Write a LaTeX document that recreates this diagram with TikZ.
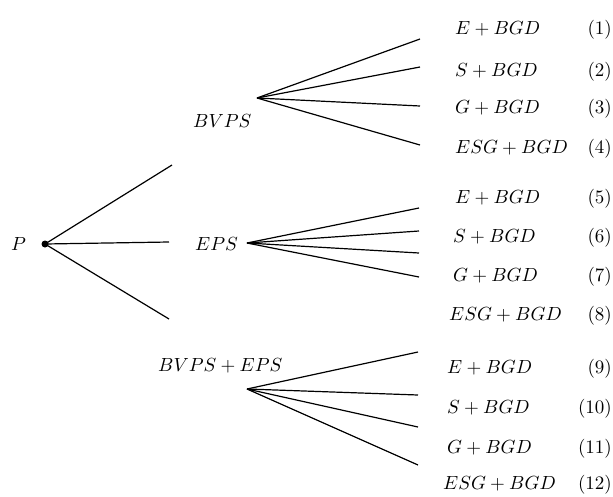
\documentclass[tikz,border=0pt]{standalone}
\usepackage{graphicx}
\newcommand{\bigtxt}[1]{\scalebox{1.9}{#1}}
\begin{document}
\begin{tikzpicture}[x=1pt,y=-1pt,
  branch/.style={line width=1.2pt},
  lbl/.style={anchor=base west, inner sep=0pt},
  num/.style={anchor=base east, inner sep=0pt},
  root/.style={circle, fill=black, inner sep=0pt, minimum size=7pt}]
\useasboundingbox (0,0) rectangle (613,496);

% root
\node[lbl] (plbl) at (11,250) {\bigtxt{$P$}};
\node[root] (p) at (45,244) {};
\coordinate (pa) at (172,165);
\coordinate (pb) at (169,242);
\coordinate (pc) at (169,319);
\draw[branch] (p.center) -- (pa);
\draw[branch] (p.center) -- (pb);
\draw[branch] (p.center) -- (pc);

% first level labels
\node[lbl] (bvps) at (193,127) {\bigtxt{$BVPS$}};
\node[lbl] (eps) at (195,250) {\bigtxt{$EPS$}};
\node[lbl] (both) at (158,371) {\bigtxt{$BVPS+EPS$}};

% BVPS branch
\coordinate (b0) at (257,98);
\coordinate (b1) at (420,39);
\coordinate (b2) at (420,67);
\coordinate (b3) at (420,106);
\coordinate (b4) at (420,145);
\foreach \e in {b1,b2,b3,b4} \draw[branch] (b0) -- (\e);

% EPS branch
\coordinate (e0) at (247,243);
\coordinate (e1) at (419,208);
\coordinate (e2) at (419,231);
\coordinate (e3) at (419,253);
\coordinate (e4) at (419,277);
\foreach \e in {e1,e2,e3,e4} \draw[branch] (e0) -- (\e);

% BVPS + EPS branch
\coordinate (c0) at (247,389);
\coordinate (c1) at (418,352);
\coordinate (c2) at (418,395);
\coordinate (c3) at (418,427);
\coordinate (c4) at (418,465);
\foreach \e in {c1,c2,c3,c4} \draw[branch] (c0) -- (\e);

% leaves
\node[lbl] (l1) at (455,34) {\bigtxt{$E+BGD$}};
\node[lbl] (l2) at (455,76) {\bigtxt{$S+BGD$}};
\node[lbl] (l3) at (455,113) {\bigtxt{$G+BGD$}};
\node[lbl] (l4) at (455,153) {\bigtxt{$ESG+BGD$}};
\node[lbl] (l5) at (455,203) {\bigtxt{$E+BGD$}};
\node[lbl] (l6) at (453,242) {\bigtxt{$S+BGD$}};
\node[lbl] (l7) at (453,281) {\bigtxt{$G+BGD$}};
\node[lbl] (l8) at (449,320) {\bigtxt{$ESG+BGD$}};
\node[lbl] (l9) at (447,373) {\bigtxt{$E+BGD$}};
\node[lbl] (l10) at (447,413) {\bigtxt{$S+BGD$}};
\node[lbl] (l11) at (447,453) {\bigtxt{$G+BGD$}};
\node[lbl] (l12) at (443,489) {\bigtxt{$ESG+BGD$}};

% equation numbers
\node[num] (n1) at (612,34) {\bigtxt{(1)}};
\node[num] (n2) at (612,76) {\bigtxt{(2)}};
\node[num] (n3) at (612,113) {\bigtxt{(3)}};
\node[num] (n4) at (612,153) {\bigtxt{(4)}};
\node[num] (n5) at (612,203) {\bigtxt{(5)}};
\node[num] (n6) at (612,242) {\bigtxt{(6)}};
\node[num] (n7) at (612,281) {\bigtxt{(7)}};
\node[num] (n8) at (612,320) {\bigtxt{(8)}};
\node[num] (n9) at (612,373) {\bigtxt{(9)}};
\node[num] (n10) at (612,413) {\bigtxt{(10)}};
\node[num] (n11) at (612,453) {\bigtxt{(11)}};
\node[num] (n12) at (612,489) {\bigtxt{(12)}};
\end{tikzpicture}
\end{document}
